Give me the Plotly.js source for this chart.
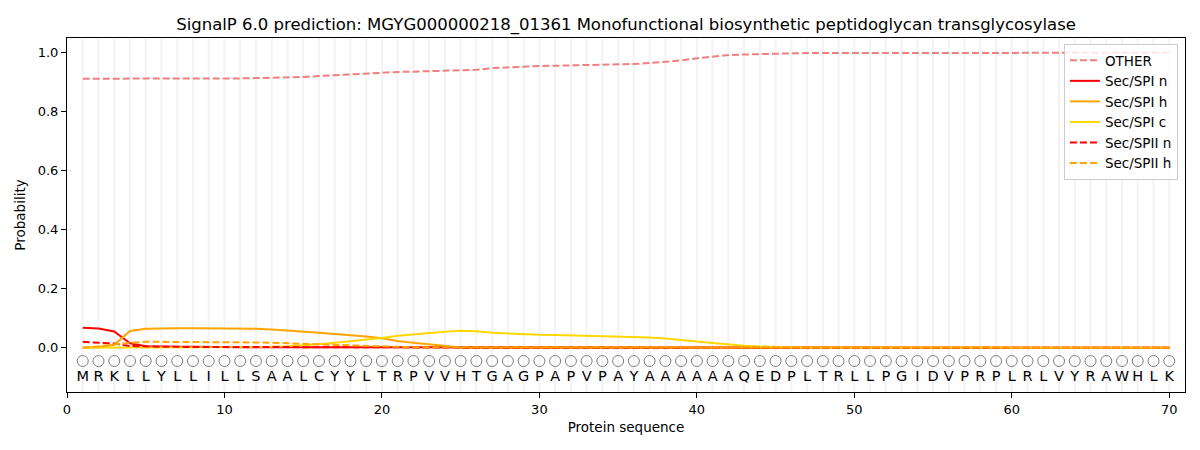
<!DOCTYPE html>
<html>
<head>
<meta charset="utf-8">
<script src="https://cdn.plot.ly/plotly-3.0.1.min.js"></script>
<style>html,body{margin:0;padding:0;background:#fff;} #chart{width:1200px;height:450px;}</style>
</head>
<body>
<div id="chart"></div>
<script>
const residues = ["M","R","K","L","L","Y","L","L","I","L","L","S","A","A","L","C","Y","Y","L","T","R","P","V","V","H","T","G","A","G","P","A","P","V","P","A","Y","A","A","A","A","A","A","Q","E","D","P","L","T","R","L","L","P","G","I","D","V","P","R","P","L","R","L","V","Y","R","A","W","H","L","K"];
const positions = residues.map((_, i) => i + 1);

const other = [0.912,0.912,0.912,0.912,0.911,0.911,0.911,0.911,0.912,0.912,0.913,0.914,0.915,0.916,0.918,0.921,0.924,0.928,0.931,0.934,0.935,0.936,0.937,0.938,0.939,0.942,0.948,0.951,0.953,0.955,0.956,0.957,0.958,0.959,0.960,0.962,0.965,0.969,0.974,0.981,0.987,0.992,0.994,0.996,0.997,0.998,0.999,0.999,1.0,1.0,1.0,1.0,1.0,1.0,1.0,1.0,1.0,1.0,1.0,1.0,1.0,1.0,1.0,1.0,1.0,1.0,1.0,1.0,1.0,1.0];
const secSPIn = [0.068,0.065,0.055,0.015,0.005,0.003,0.003,0.003,0.002,0.002,0.002,0.002,0.002,0.002,0.002,0.002,0.002,0.001,0.001,0.001,0.001,0.001,0.001,0.001,0.0,0.0,0.0,0.0,0.0,0.0,0.0,0.0,0.0,0.0,0.0,0.0,0.0,0.0,0.0,0.0,0.0,0.0,0.0,0.0,0.0,0.0,0.0,0.0,0.0,0.0,0.0,0.0,0.0,0.0,0.0,0.0,0.0,0.0,0.0,0.0,0.0,0.0,0.0,0.0,0.0,0.0,0.0,0.0,0.0,0.0];
const secSPIh = [0.0,0.003,0.010,0.057,0.064,0.066,0.066,0.066,0.066,0.066,0.065,0.064,0.062,0.059,0.055,0.051,0.047,0.043,0.038,0.032,0.023,0.017,0.012,0.006,0.001,0.0,0.0,0.0,0.0,0.0,0.0,0.0,0.0,0.0,0.0,0.0,0.0,0.0,0.0,0.0,0.0,0.0,0.0,0.0,0.0,0.0,0.0,0.0,0.0,0.0,0.0,0.0,0.0,0.0,0.0,0.0,0.0,0.0,0.0,0.0,0.0,0.0,0.0,0.0,0.0,0.0,0.0,0.0,0.0,0.0];
const secSPIc = [0.0,0.001,0.001,0.001,0.001,0.001,0.001,0.001,0.001,0.001,0.002,0.002,0.003,0.005,0.008,0.012,0.017,0.022,0.027,0.033,0.041,0.046,0.050,0.054,0.058,0.056,0.051,0.048,0.046,0.044,0.043,0.042,0.041,0.040,0.038,0.037,0.035,0.031,0.027,0.021,0.016,0.011,0.007,0.004,0.002,0.001,0.0,0.0,0.0,0.0,0.0,0.0,0.0,0.0,0.0,0.0,0.0,0.0,0.0,0.0,0.0,0.0,0.0,0.0,0.0,0.0,0.0,0.0,0.0,0.0];
const secSPIIn = [0.020,0.018,0.014,0.006,0.004,0.003,0.003,0.003,0.003,0.003,0.003,0.003,0.002,0.002,0.002,0.002,0.002,0.002,0.001,0.001,0.001,0.001,0.001,0.001,0.0,0.0,0.0,0.0,0.0,0.0,0.0,0.0,0.0,0.0,0.0,0.0,0.0,0.0,0.0,0.0,0.0,0.0,0.0,0.0,0.0,0.0,0.0,0.0,0.0,0.0,0.0,0.0,0.0,0.0,0.0,0.0,0.0,0.0,0.0,0.0,0.0,0.0,0.0,0.0,0.0,0.0,0.0,0.0,0.0,0.0];
const secSPIIh = [0.001,0.004,0.012,0.017,0.020,0.020,0.020,0.020,0.020,0.020,0.019,0.018,0.017,0.015,0.013,0.011,0.009,0.007,0.005,0.004,0.003,0.002,0.002,0.001,0.0,0.0,0.0,0.0,0.0,0.0,0.0,0.0,0.0,0.0,0.0,0.0,0.0,0.0,0.0,0.0,0.0,0.0,0.0,0.0,0.0,0.0,0.0,0.0,0.0,0.0,0.0,0.0,0.0,0.0,0.0,0.0,0.0,0.0,0.0,0.0,0.0,0.0,0.0,0.0,0.0,0.0,0.0,0.0,0.0,0.0];

const yTicks = [0.0,0.2,0.4,0.6,0.8,1.0];
const xTicks = [0,10,20,30,40,50,60,70];
const titleText = "SignalP 6.0 prediction: MGYG000000218_01361 Monofunctional biosynthetic peptidoglycan transglycosylase";

const FONT = "DejaVu Sans, sans-serif";

const series = [
  {name: "OTHER", y: other, color: "#f08080", dash: "7px,3px"},
  {name: "Sec/SPI n", y: secSPIn, color: "#ff0000", dash: "solid"},
  {name: "Sec/SPI h", y: secSPIh, color: "#ffa500", dash: "solid"},
  {name: "Sec/SPI c", y: secSPIc, color: "#ffd700", dash: "solid"},
  {name: "Sec/SPII n", y: secSPIIn, color: "#ff0000", dash: "7px,3px"},
  {name: "Sec/SPII h", y: secSPIIh, color: "#ffa500", dash: "7px,3px"}
];

const traces = series.map(s => ({
  type: "scatter", mode: "lines", name: s.name, x: positions, y: s.y,
  line: {color: s.color, width: 2, dash: s.dash}
}));

traces.push({
  type: "scatter", mode: "markers", x: positions, y: positions.map(() => -0.045),
  marker: {symbol: "circle-open", size: 11, color: "#808080", line: {width: 1}},
  showlegend: false, hoverinfo: "skip"
});
traces.push({
  type: "scatter", mode: "text", x: positions, y: positions.map(() => -0.1),
  text: residues, textfont: {family: FONT, size: 14.5, color: "#000"},
  showlegend: false, hoverinfo: "skip"
});

const shapes = positions.map(p => ({
  type: "line", xref: "x", yref: "paper", x0: p, x1: p, y0: 0, y1: 1,
  line: {color: "rgba(211,211,211,0.28)", width: 2}, layer: "below"
}));

const layout = {
  width: 1200, height: 450,
  margin: {l: 67, r: 15, t: 38, b: 58},
  paper_bgcolor: "#fff", plot_bgcolor: "#fff",
  font: {family: FONT, size: 13, color: "#000"},
  title: {text: titleText, font: {family: FONT, size: 16.5, color: "#000"}, x: 0.5217, xanchor: "center", y: 0.946, yanchor: "middle"},
  xaxis: {
    range: [0, 71], tickvals: xTicks, ticktext: xTicks.map(String),
    showgrid: false, zeroline: false, showline: true, mirror: true, linecolor: "#000", linewidth: 1,
    ticks: "outside", ticklen: 5, tickcolor: "#000", tickfont: {family: FONT, size: 13},
    title: {text: "Protein sequence", font: {family: FONT, size: 13.5}, standoff: 6}
  },
  yaxis: {
    range: [-0.15, 1.05], tickvals: yTicks, ticktext: yTicks.map(v => v.toFixed(1)),
    showgrid: false, zeroline: false, showline: true, mirror: true, linecolor: "#000", linewidth: 1,
    ticks: "outside", ticklen: 5, tickcolor: "#000", tickfont: {family: FONT, size: 13},
    title: {text: "Probability", font: {family: FONT, size: 13.5}, standoff: 8}
  },
  legend: {
    x: 0.9937, xanchor: "right", y: 0.983, yanchor: "top",
    bgcolor: "rgba(255,255,255,0.8)", bordercolor: "#cccccc", borderwidth: 1,
    font: {family: FONT, size: 13.5}, tracegroupgap: 0, itemwidth: 30
  },
  shapes: shapes,
  showlegend: true
};

Plotly.newPlot("chart", traces, layout, {displayModeBar: false, staticPlot: true});
</script>
</body>
</html>
